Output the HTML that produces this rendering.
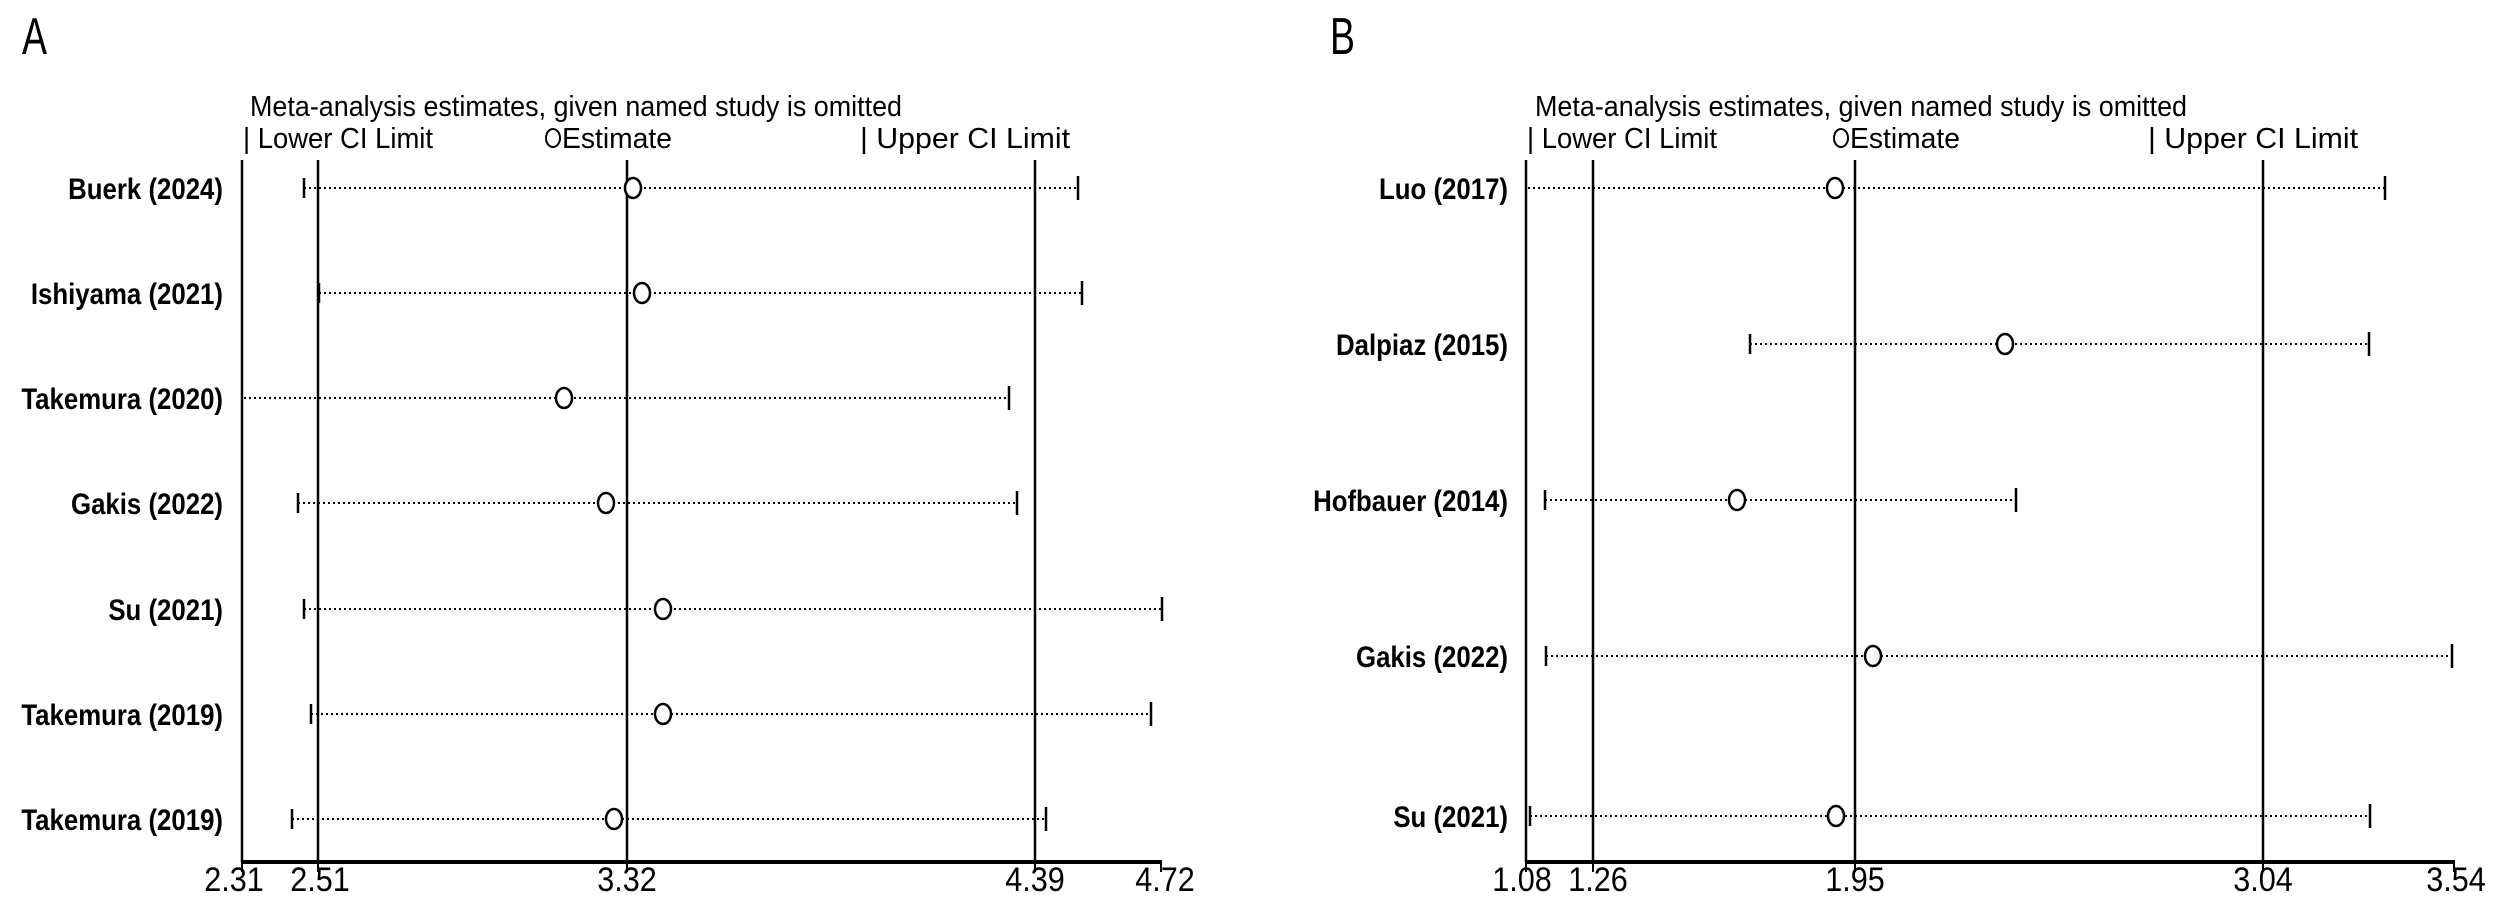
<!DOCTYPE html>
<html><head><meta charset="utf-8"><style>
html,body{margin:0;padding:0;background:#fff;}
svg{display:block;}
text{font-family:"Liberation Sans Narrow","Liberation Sans",sans-serif;fill:#000;}
.lab{font-size:30px;font-weight:bold;text-anchor:end;}
.tit{font-size:29px;}
.tk{font-size:34px;text-anchor:middle;}
.pl{font-size:52px;}
.dot{stroke:#000;stroke-width:2;stroke-dasharray:2 3;}
.v{stroke:#000;stroke-width:2.5;}
.c{fill:#fff;stroke:#000;stroke-width:2.5;}
</style></head><body>
<svg width="2500" height="900" xmlns="http://www.w3.org/2000/svg">
<text class="pl" transform="translate(22,54) scale(0.72,1)">A</text>
<text class="pl" transform="translate(1330,54) scale(0.72,1)">B</text>

<!-- Panel A -->
<text class="tit" x="250" y="116" textLength="652" lengthAdjust="spacingAndGlyphs">Meta-analysis estimates, given named study is omitted</text>
<text class="tit" x="243" y="148" textLength="190" lengthAdjust="spacingAndGlyphs">| Lower CI Limit</text>
<ellipse cx="553" cy="138" rx="7" ry="9" fill="none" stroke="#000" stroke-width="2"/>
<text class="tit" x="562" y="148" textLength="110" lengthAdjust="spacingAndGlyphs">Estimate</text>
<text class="tit" x="860" y="148" textLength="210" lengthAdjust="spacingAndGlyphs">| Upper CI Limit</text>
<line class="v" x1="242" y1="160" x2="242" y2="862"/>
<line class="v" x1="318" y1="160" x2="318" y2="862"/>
<line class="v" x1="627" y1="160" x2="627" y2="862"/>
<line class="v" x1="1035" y1="160" x2="1035" y2="862"/>
<line x1="241" y1="862" x2="1162" y2="862" stroke="#000" stroke-width="4"/>
<g stroke="#000" stroke-width="2">
<line x1="242" y1="862" x2="242" y2="872"/><line x1="318" y1="862" x2="318" y2="872"/><line x1="627" y1="862" x2="627" y2="872"/><line x1="1035" y1="862" x2="1035" y2="872"/><line x1="1161" y1="862" x2="1161" y2="872"/>
</g>
<text class="tk" transform="translate(234,891) scale(0.9,1)">2.31</text>
<text class="tk" transform="translate(320,891) scale(0.9,1)">2.51</text>
<text class="tk" transform="translate(627,891) scale(0.9,1)">3.32</text>
<text class="tk" transform="translate(1035,891) scale(0.9,1)">4.39</text>
<text class="tk" transform="translate(1165,891) scale(0.9,1)">4.72</text>

<g>
<text class="lab" transform="translate(223,199) scale(0.86,1)">Buerk (2024)</text>
<line class="dot" x1="304" y1="188" x2="1078" y2="188"/><line class="v" x1="304" y1="178" x2="304" y2="198"/><line class="v" x1="1078" y1="176" x2="1078" y2="200"/><ellipse class="c" cx="633" cy="188" rx="8" ry="10"/>
<text class="lab" transform="translate(223,304) scale(0.86,1)">Ishiyama (2021)</text>
<line class="dot" x1="319" y1="293" x2="1082" y2="293"/><line class="v" x1="319" y1="283" x2="319" y2="303"/><line class="v" x1="1082" y1="281" x2="1082" y2="305"/><ellipse class="c" cx="642" cy="293" rx="8" ry="10"/>
<text class="lab" transform="translate(223,409) scale(0.86,1)">Takemura (2020)</text>
<line class="dot" x1="244" y1="398" x2="1009" y2="398"/><line class="v" x1="1009" y1="386" x2="1009" y2="410"/><ellipse class="c" cx="564" cy="398" rx="8" ry="10"/>
<text class="lab" transform="translate(223,514) scale(0.86,1)">Gakis (2022)</text>
<line class="dot" x1="298" y1="503" x2="1017" y2="503"/><line class="v" x1="298" y1="493" x2="298" y2="513"/><line class="v" x1="1017" y1="491" x2="1017" y2="515"/><ellipse class="c" cx="606" cy="503" rx="8" ry="10"/>
<text class="lab" transform="translate(223,620) scale(0.86,1)">Su (2021)</text>
<line class="dot" x1="304" y1="609" x2="1162" y2="609"/><line class="v" x1="304" y1="599" x2="304" y2="619"/><line class="v" x1="1162" y1="597" x2="1162" y2="621"/><ellipse class="c" cx="663" cy="609" rx="8" ry="10"/>
<text class="lab" transform="translate(223,725) scale(0.86,1)">Takemura (2019)</text>
<line class="dot" x1="311" y1="714" x2="1151" y2="714"/><line class="v" x1="311" y1="704" x2="311" y2="724"/><line class="v" x1="1151" y1="702" x2="1151" y2="726"/><ellipse class="c" cx="663" cy="714" rx="8" ry="10"/>
<text class="lab" transform="translate(223,830) scale(0.86,1)">Takemura (2019)</text>
<line class="dot" x1="292" y1="819" x2="1046" y2="819"/><line class="v" x1="292" y1="809" x2="292" y2="829"/><line class="v" x1="1046" y1="807" x2="1046" y2="831"/><ellipse class="c" cx="614" cy="819" rx="8" ry="10"/>
</g>

<!-- Panel B -->
<text class="tit" x="1535" y="116" textLength="652" lengthAdjust="spacingAndGlyphs">Meta-analysis estimates, given named study is omitted</text>
<text class="tit" x="1527" y="148" textLength="190" lengthAdjust="spacingAndGlyphs">| Lower CI Limit</text>
<ellipse cx="1841" cy="138" rx="7" ry="9" fill="none" stroke="#000" stroke-width="2"/>
<text class="tit" x="1850" y="148" textLength="110" lengthAdjust="spacingAndGlyphs">Estimate</text>
<text class="tit" x="2148" y="148" textLength="210" lengthAdjust="spacingAndGlyphs">| Upper CI Limit</text>
<line class="v" x1="1526" y1="160" x2="1526" y2="862"/>
<line class="v" x1="1593" y1="160" x2="1593" y2="862"/>
<line class="v" x1="1855" y1="160" x2="1855" y2="862"/>
<line class="v" x1="2263" y1="160" x2="2263" y2="862"/>
<line x1="1525" y1="862" x2="2455" y2="862" stroke="#000" stroke-width="4"/>
<g stroke="#000" stroke-width="2">
<line x1="1526" y1="862" x2="1526" y2="872"/><line x1="1593" y1="862" x2="1593" y2="872"/><line x1="1855" y1="862" x2="1855" y2="872"/><line x1="2263" y1="862" x2="2263" y2="872"/><line x1="2454" y1="862" x2="2454" y2="872"/>
</g>
<text class="tk" transform="translate(1522,891) scale(0.9,1)">1.08</text>
<text class="tk" transform="translate(1598,891) scale(0.9,1)">1.26</text>
<text class="tk" transform="translate(1855,891) scale(0.9,1)">1.95</text>
<text class="tk" transform="translate(2263,891) scale(0.9,1)">3.04</text>
<text class="tk" transform="translate(2456,891) scale(0.9,1)">3.54</text>

<g>
<text class="lab" transform="translate(1508,199) scale(0.86,1)">Luo (2017)</text>
<line class="dot" x1="1528" y1="188" x2="2385" y2="188"/><line class="v" x1="2385" y1="176" x2="2385" y2="200"/><ellipse class="c" cx="1835" cy="188" rx="8" ry="10"/>
<text class="lab" transform="translate(1508,355) scale(0.86,1)">Dalpiaz (2015)</text>
<line class="dot" x1="1750" y1="344" x2="2369" y2="344"/><line class="v" x1="1750" y1="334" x2="1750" y2="354"/><line class="v" x1="2369" y1="332" x2="2369" y2="356"/><ellipse class="c" cx="2005" cy="344" rx="8" ry="10"/>
<text class="lab" transform="translate(1508,511) scale(0.86,1)">Hofbauer (2014)</text>
<line class="dot" x1="1545" y1="500" x2="2016" y2="500"/><line class="v" x1="1545" y1="490" x2="1545" y2="510"/><line class="v" x1="2016" y1="488" x2="2016" y2="512"/><ellipse class="c" cx="1737" cy="500" rx="8" ry="10"/>
<text class="lab" transform="translate(1508,667) scale(0.86,1)">Gakis (2022)</text>
<line class="dot" x1="1546" y1="656" x2="2452" y2="656"/><line class="v" x1="1546" y1="646" x2="1546" y2="666"/><line class="v" x1="2452" y1="644" x2="2452" y2="668"/><ellipse class="c" cx="1873" cy="656" rx="8" ry="10"/>
<text class="lab" transform="translate(1508,827) scale(0.86,1)">Su (2021)</text>
<line class="dot" x1="1530" y1="816" x2="2370" y2="816"/><line class="v" x1="1530" y1="806" x2="1530" y2="826"/><line class="v" x1="2370" y1="804" x2="2370" y2="828"/><ellipse class="c" cx="1836" cy="816" rx="8" ry="10"/>
</g>
</svg>
</body></html>
